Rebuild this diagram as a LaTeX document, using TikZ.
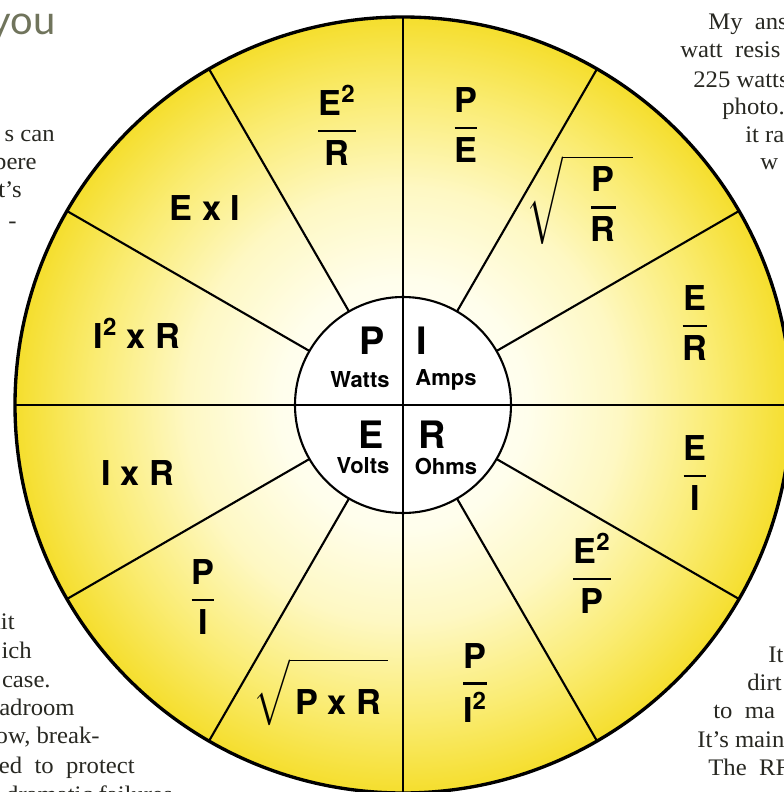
\documentclass[tikz,border=0pt]{standalone}
\usepackage{fontspec}
\usepackage{amsmath}
\usepackage{xcolor}
\usepackage{tikz}
\setmainfont{Liberation Serif}[FakeStretch=1.04]
\newfontfamily\wheelfont{TeX Gyre Heros}
\newfontfamily\headfont{Lato}

\definecolor{wheelyellow}{RGB}{245,222,45}
\definecolor{midyellow}{RGB}{250,236,115}
\definecolor{softyellow}{RGB}{254,248,195}
\definecolor{paleyellow}{RGB}{255,254,236}
\definecolor{inkgrey}{RGB}{40,40,34}
\definecolor{headolive}{RGB}{112,116,92}

\pgfdeclareradialshading{wheelshade}{\pgfpoint{0bp}{0bp}}{%
  color(0bp)=(white); color(8bp)=(paleyellow); color(14bp)=(softyellow);
  color(20bp)=(midyellow); color(25bp)=(wheelyellow); color(50bp)=(wheelyellow)}

% fraction and root used in the wheel cells
\newcommand{\ohmfrac}[2]{$\displaystyle\genfrac{}{}{1.4pt}{}{\text{#1}}{\text{#2}}$}
\newcommand{\ohmroot}[1]{$\displaystyle\sqrt{#1}$}

\begin{document}
\begin{tikzpicture}[
    cell/.style={font=\wheelfont\bfseries\fontsize{19.5}{22}\selectfont, inner sep=0pt},
    big/.style={font=\wheelfont\bfseries\fontsize{21.5}{24}\selectfont, inner sep=0pt},
    unit/.style={font=\wheelfont\bfseries\fontsize{12.5}{14}\selectfont, inner sep=0pt},
    copy/.style={font=\fontsize{13.5}{16}\selectfont, text=inkgrey, inner sep=0pt},
    spoke/.style={line width=1.2pt},
]
    % Page frame
    \useasboundingbox (-8.06,-7.74) rectangle (7.62,8.10);
    \fill[white] (-8.06,-7.74) rectangle (7.62,8.10);
    \clip (-8.06,-7.74) rectangle (7.62,8.10);

    % Wheel
    \shade[shading=wheelshade] (0,0) circle (7.76);
    \fill[white] (0,0) circle (2.16);
    \foreach \a in {30,60,120,150,210,240,300,330}
        \draw[spoke] (\a:2.16) -- (\a:7.76);
    \draw[spoke] (0,-7.76) -- (0,7.76);
    \draw[spoke] (-7.76,0) -- (7.76,0);
    \draw[line width=1.2pt] (0,0) circle (2.16);
    \draw[line width=1.9pt] (0,0) circle (7.76);

    % Centre
    \node[big] at (-0.62, 1.28) (pw) {P};
    \node[unit] at (-0.86, 0.50) (watts) {Watts};
    \node[big] at (0.38, 1.28) (ia) {I};
    \node[unit] at (0.86, 0.50) (amps) {Amps};
    \node[big] at (-0.64, -0.60) (ev) {E};
    \node[unit] at (-0.80, -1.22) (volts) {Volts};
    \node[big] at (0.58, -0.60) (ro) {R};
    \node[unit] at (0.86, -1.22) (ohms) {Ohms};

    % Cells
    \node[cell] at (1.26, 5.60) (pe) {\ohmfrac{P}{E}};
    \node[cell] at (3.54, 4.10) (sqpr) {\ohmroot{\hspace{0.75em}\genfrac{}{}{1.4pt}{}{\text{P}}{\text{R}}\hspace{0.45em}}};
    \node[cell] at (5.84, 1.64) (er) {\ohmfrac{E}{R}};
    \node[cell] at (5.84, -1.36) (ei) {\ohmfrac{E}{I}};
    \node[cell] at (3.78, -3.36) (e2p) {\ohmfrac{E\textsuperscript{2}}{P}};
    \node[cell] at (1.44, -5.56) (pi2) {\ohmfrac{P}{I\textsuperscript{2}}};
    \node[cell] at (-1.64, -5.74) (sqpxr) {\ohmroot{\rule[-0.3em]{0pt}{1.65em}\hspace{0.15em}\text{P x R}\hspace{0.2em}}};
    \node[cell] at (-4.00, -3.84) (pi) {\ohmfrac{P}{I}};
    \node[cell] at (-5.30, -1.36) (ixr) {I x R};
    \node[cell] at (-5.32, 1.44) (i2xr) {I\textsuperscript{2} x R};
    \node[cell] at (-3.96, 3.94) (exi) {E x I};
    \node[cell] at (-1.32, 5.60) (e2r) {\ohmfrac{E\textsuperscript{2}}{R}};

    % Page text round the wheel
    \node[anchor=base west, font=\headfont\fontsize{22.7}{26}\selectfont, text=headolive, inner sep=0pt] at (-8.26, 7.40) (head) {you};
    \node[copy, anchor=base east] at (-6.96, 5.26) (l1) {s can};
    \node[copy, anchor=base east] at (-7.32, 4.70) (l2) {pere};
    \node[copy, anchor=base east] at (-7.62, 4.14) (l3) {t’s};
    \node[copy, anchor=base east] at (-7.72, 3.54) (l4) {-};
    \node[copy, anchor=base east] at (-7.76, -4.48) (l5) {nit};
    \node[copy, anchor=base east] at (-7.42, -5.06) (l6) {ich};
    \node[copy, anchor=base east] at (-7.04, -5.64) (l7) {case.};
    \node[copy, anchor=base east] at (-6.56, -6.20) (l8) {adroom};
    \node[copy, anchor=base east] at (-6.06, -6.76) (l9) {ow, break-};
    \node[copy, anchor=base east] at (-5.36, -7.36) (l10) {ed\ \ to\ \ protect};
    \node[copy, anchor=base east] at (-4.60, -7.94) (l11) {dramatic failures};
    \node[copy, anchor=base west] at (6.10, 7.50) (r1) {My\ \ ans};
    \node[copy, anchor=base west] at (5.54, 6.94) (r2) {watt\ \ resis};
    \node[copy, anchor=base west] at (5.80, 6.34) (r3) {225 watts};
    \node[copy, anchor=base west] at (6.38, 5.80) (r4) {photo.};
    \node[copy, anchor=base west] at (6.84, 5.24) (r5) {it ra};
    \node[copy, anchor=base west] at (7.14, 4.70) (r6) {w};
    \node[copy, anchor=base west] at (7.30, -5.14) (r7) {It};
    \node[copy, anchor=base west] at (6.88, -5.70) (r8) {dirt};
    \node[copy, anchor=base west] at (6.20, -6.26) (r9) {to\ \ ma};
    \node[copy, anchor=base west] at (5.88, -6.84) (r10) {It’s main};
    \node[copy, anchor=base west] at (6.10, -7.40) (r11) {The\ \ RF};

\end{tikzpicture}
\end{document}
